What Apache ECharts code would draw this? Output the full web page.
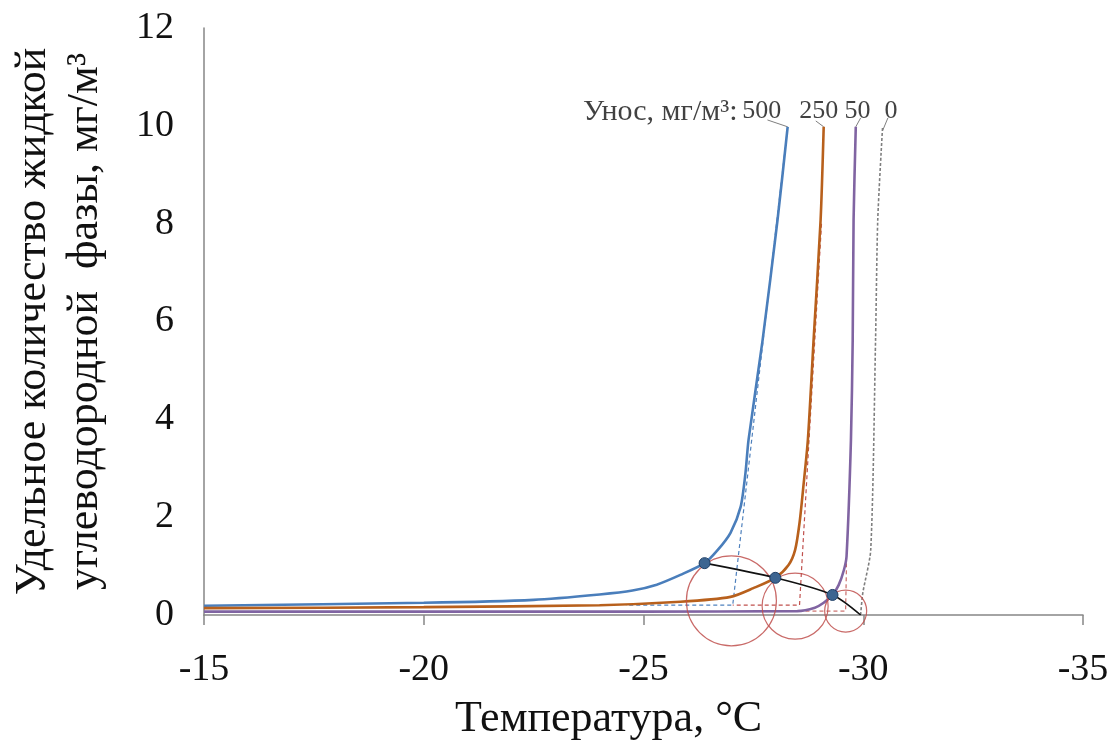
<!DOCTYPE html>
<html>
<head>
<meta charset="utf-8">
<script src="https://cdn.jsdelivr.net/npm/echarts@6/dist/echarts.min.js"></script>
<style>html,body{margin:0;padding:0;background:#fff}#c{width:1116px;height:740px}</style>
</head>
<body>
<div id="c"></div>
<script>
// ---- data (temperature, °C ; specific amount, mg/m3) ----
const xTicks = [-15, -20, -25, -30, -35];
const yTicks = [0, 2, 4, 6, 8, 10, 12];

const t500 = [-15, -20, -22.5, -24, -24.75, -25.3, -25.84, -26.39, -26.69, -26.98, -27.21, -27.32, -27.39, -27.71, -28.05, -28.28];
const v500 = [0.19, 0.25, 0.31, 0.42, 0.5, 0.62, 0.82, 1.06, 1.33, 1.68, 2.21, 2.9, 3.58, 5.62, 8.08, 9.98];

const t250 = [-15, -20, -24, -25.84, -26.98, -27.5, -28.0, -28.3, -28.45, -28.55, -28.63, -28.74, -28.87, -29.03, -29.1];
const v250 = [0.14, 0.16, 0.2, 0.27, 0.37, 0.55, 0.76, 1.02, 1.33, 1.88, 2.56, 3.58, 5.62, 8.08, 9.98];

const t50 = [-15, -20, -25, -28.5, -28.9, -29.1, -29.3, -29.44, -29.56, -29.62, -29.72, -29.76, -29.78, -29.83];
const v50 = [0.07, 0.07, 0.07, 0.08, 0.15, 0.25, 0.41, 0.61, 0.92, 1.2, 3.58, 5.62, 8.08, 9.98];

const t0 = [-29.94, -29.99, -30.17, -30.28, -30.33, -30.44];
const v0 = [0.0, 0.45, 1.33, 5.62, 8.08, 9.98];

// points of intersection (black line)
const tCross = [-26.39, -28.0, -29.3, -29.94];
const vCross = [1.06, 0.76, 0.41, 0.0];

// dashed extrapolation lines
const tDashBlue = [-28.28, -27.03, -27.03, -24.6];
const vDashBlue = [9.98, 0.2, 0.2, 0.2];
const tDashRed = [-29.05, -28.55, -28.55, -27.03];
const vDashRed = [8.0, 0.2, 0.2, 0.2];
const tDashPurple = [-29.62, -29.6, -28.6];
const vDashPurple = [1.2, 0.08, 0.08];

// red circles: centres
const tCircle = [-27.0, -28.45, -29.6];
const vCircle = [0.29, 0.18, 0.08];
const circleSize = [90, 66, 42];

// legend annotation
const unosTitle = 'Унос, мг/м³:';
const unosLabels = ['500', '250', '50', '0'];
const tLabel = [-27.69, -28.99, -29.87, -30.63];
const vLabel = [10.29, 10.29, 10.29, 10.29];
const tLeadA = [-27.82, -28.92, -29.94, -30.56];
const vLeadA = [10.12, 10.1, 10.16, 10.16];
const tLeadB = [-28.28, -29.1, -29.83, -30.44];
const vLeadB = [9.98, 9.98, 9.98, 9.9];

const zip = (a, b) => a.map((x, i) => [x, b[i]]);
const serif = 'Liberation Serif, Times New Roman, serif';

const series = [];
function curve(t, v, color, width, type, z) {
  series.push({ type: 'line', data: zip(t, v), showSymbol: false, smooth: 0.25, z: z || 3,
    lineStyle: { color: color, width: width, type: type || 'solid' }, animation: false });
}
function straight(t, v, color, width, type, z) {
  series.push({ type: 'line', data: zip(t, v), showSymbol: false, smooth: false, z: z || 2,
    lineStyle: { color: color, width: width, type: type || 'solid' }, animation: false });
}
curve(t500, v500, '#4a7ebb', 2.6);
curve(t250, v250, '#b8601c', 2.6);
curve(t50, v50, '#8064a2', 2.6);
curve(t0, v0, '#7f7f7f', 1.6, [3, 2]);
straight(tDashBlue, vDashBlue, '#4f81bd', 1.2, [4, 3]);
straight(tDashRed, vDashRed, '#c0504d', 1.2, [4, 3]);
straight(tDashPurple, vDashPurple, '#c0504d', 1.0, [4, 3]);
series.push({ type: 'line', smooth: 0.3, z: 5,
  data: tCross.map((t, i) => ({ value: [t, vCross[i]], symbol: i < tCross.length - 1 ? 'circle' : 'none' })),
  symbol: 'circle', symbolSize: 11, showSymbol: true,
  itemStyle: { color: '#3d6591', borderColor: '#1f3f66', borderWidth: 1 },
  lineStyle: { color: '#111', width: 1.6 }, animation: false });
series.push({ type: 'scatter', data: tCircle.map((t, i) => ({ value: [t, vCircle[i]], symbolSize: circleSize[i] })),
  symbol: 'circle', z: 4, silent: true,
  itemStyle: { color: 'rgba(0,0,0,0)', borderColor: '#c0504d', borderWidth: 1.2, opacity: 0.85 }, animation: false });
// leader lines
tLeadA.forEach((t, i) => straight([t, tLeadB[i]], [vLeadA[i], vLeadB[i]], '#7f7f7f', 1, 'solid', 2));
// labels
series.push({ type: 'scatter', symbolSize: 0, z: 6, silent: true, animation: false,
  data: tLabel.map((t, i) => ({ value: [t, vLabel[i]], label: { show: true, formatter: unosLabels[i] } })),
  label: { position: 'inside', color: '#111', fontFamily: serif, fontSize: 26 } });
series.push({ type: 'scatter', symbolSize: 0, z: 6, silent: true, animation: false,
  data: [{ value: [-27.14, 10.29], label: { show: true, formatter: unosTitle } }],
  label: { position: 'left', distance: 0, color: '#111', fontFamily: serif, fontSize: 30 } });

const chart = echarts.init(document.getElementById('c'), null, { renderer: 'canvas' });
chart.setOption({
  backgroundColor: '#fff',
  animation: false,
  grid: { left: 204, right: 33, top: 28, bottom: 125, containLabel: false, outerBoundsMode: 'none' },
  xAxis: {
    type: 'value', min: -35, max: -15, interval: 5, inverse: true,
    name: 'Температура, °C', nameLocation: 'middle', nameGap: 82,
    nameTextStyle: { fontFamily: serif, fontSize: 44, color: '#111', padding: [0, 70, 0, 0] },
    axisLine: { show: true, onZero: false, lineStyle: { color: '#868686', width: 1.5 } },
    axisTick: { show: true, length: 10, lineStyle: { color: '#868686', width: 1.5 } },
    axisLabel: { fontFamily: serif, fontSize: 38, color: '#111', margin: 36,
      formatter: v => xTicks.includes(v) ? String(v) : '' },
    splitLine: { show: false }
  },
  yAxis: {
    type: 'value', min: 0, max: 12, interval: 2,
    name: 'Удельное количество жидкой\nуглеводородной  фазы, мг/м³', nameLocation: 'middle', nameGap: 93, nameRotate: 90,
    nameTextStyle: { fontFamily: serif, fontSize: 44, color: '#111', lineHeight: 52 },
    axisLine: { show: true, lineStyle: { color: '#868686', width: 1.5 } },
    axisTick: { show: false },
    axisLabel: { fontFamily: serif, fontSize: 38, color: '#111', margin: 30,
      formatter: v => yTicks.includes(v) ? String(v) : '' },
    splitLine: { show: false }
  },
  series: series
});
</script>
</body>
</html>
